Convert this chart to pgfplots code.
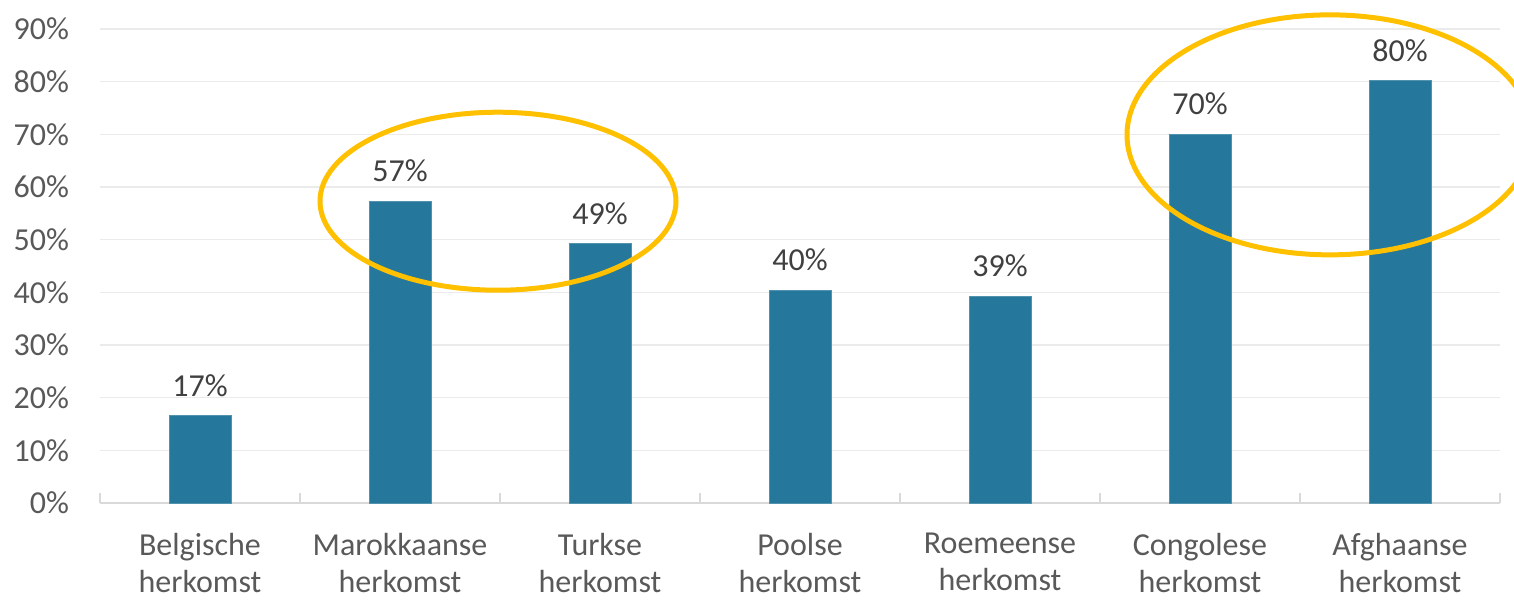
\documentclass[border=0pt]{standalone}
\usepackage{fontspec}
\setmainfont{Carlito}
\usepackage{pgfplots}
\pgfplotsset{compat=1.18}
\usetikzlibrary{calc}

\definecolor{barblue}{HTML}{25789B}
\definecolor{ticktext}{HTML}{595959}
\definecolor{labeltext}{HTML}{404040}
\definecolor{gridgray}{HTML}{EBEBEB}
\definecolor{axisgray}{HTML}{D9D9D9}
\definecolor{ringgold}{HTML}{FFC000}

\begin{document}
\begin{tikzpicture}
\fontsize{16pt}{19pt}\selectfont
\begin{axis}[
    name=ax,
    scale only axis,
    width=700pt, height=237pt,
    xmin=-0.5, xmax=6.5,
    ymin=0, ymax=90,
    ytick={0,10,...,90},
    yticklabel={\pgfmathprintnumber{\tick}\%},
    /pgf/number format/assume math mode=true,
    xtick={0,...,6},
    xticklabels={{Belgische\\herkomst},{Marokkaanse\\herkomst},{Turkse\\herkomst},{Poolse\\herkomst},{Roemeense\\herkomst},{Congolese\\herkomst},{Afghaanse\\herkomst}},
    minor xtick={-0.5,0.5,...,6.5},
    xticklabel style={align=center, text=ticktext, font=\fontsize{16pt}{18.5pt}\selectfont, yshift=-14.5pt},
    yticklabel style={text=ticktext, font=\fontsize{16pt}{19pt}\selectfont, xshift=-10pt},
    axis line style={draw=none},
    axis x line*=bottom,
    x axis line style={draw=axisgray, line width=0.7pt},
    major tick length=-5pt, minor tick length=-5pt,
    xtick style={draw=axisgray, line width=0.6pt},
    minor tick style={draw=axisgray, line width=0.6pt},
    ytick style={draw=none},
    ymajorgrids,
    grid style={draw=gridgray, line width=0.7pt},
    ybar, bar width=31pt,
    nodes near coords={\pgfmathprintnumber[fixed,precision=0]{\pgfplotspointmeta}\%},
    nodes near coords style={text=labeltext, font=\fontsize{16pt}{19pt}\selectfont, yshift=4pt},
    clip=false,
]
\addplot[fill=barblue, draw=barblue!80!white, line width=0.4pt] coordinates {
    (0,16.6) (1,57.3) (2,49.2) (3,40.4) (4,39.3) (5,70.0) (6,80.2)
};
\draw[ringgold, line width=2.5pt] (axis cs:1.49,57.3) ellipse [x radius=89pt, y radius=44.5pt];
\begin{pgfinterruptboundingbox}
\draw[ringgold, line width=2.5pt] (axis cs:5.65,69.9) ellipse [x radius=101.5pt, y radius=60pt];
\end{pgfinterruptboundingbox}
\end{axis}
\pgfresetboundingbox
\path[use as bounding box] ($(ax.south west)+(-50pt,-48.5pt)$) rectangle ($(ax.north east)+(7pt,14.5pt)$);
\end{tikzpicture}
\end{document}
